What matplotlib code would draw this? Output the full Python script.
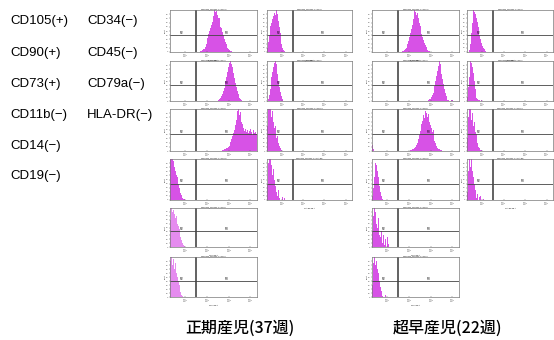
#!/usr/bin/env python3
"""
flow cytometry panels: term (37w) vs very preterm (22w) MSC markers
"""
import matplotlib.pyplot as plt
import numpy as np

plt.rcParams['font.family'] = ['Liberation Sans', 'Noto Sans CJK JP', 'DejaVu Sans']

# histogram bins are 0.04 decade wide; each entry = (log10 of first bin edge, bin heights in % of axis)
BIN = 0.04

# term infant (37 weeks)
t_cd105 = (1.70, [2, 3, 4, 6, 8, 12, 18, 25, 33, 42, 50, 58, 65, 72, 85, 92, 100, 95, 98,
                  88, 80, 82, 70, 60, 58, 48, 40, 32, 25, 20, 14, 10, 7, 5, 3, 2, 1, 1])
t_cd90 = (2.45, [1, 2, 3, 5, 8, 12, 18, 25, 32, 40, 50, 60, 72, 85, 95, 100, 92, 98, 85,
                 70, 58, 45, 35, 25, 18, 12, 7, 4, 2])
t_cd73 = (2.60, [1, 1, 2, 2, 3, 4, 5, 6, 8, 10, 13, 16, 22, 28, 35, 42, 50, 62, 75, 88, 95,
                 100, 85, 92, 70, 65, 55, 60, 48, 52, 45, 50, 42, 48, 40, 52, 45, 38, 50, 42,
                 46, 40, 44])
t_cd11b = (0.30, [100, 120, 110, 115, 95, 80, 70, 60, 55, 40, 30, 25, 18, 12, 6, 3, 2, 1])
t_cd14 = (0.30, [70, 110, 90, 105, 95, 85, 75, 80, 60, 55, 45, 35, 25, 18, 10, 5, 2])
t_cd19 = (0.30, [90, 105, 80, 110, 95, 70, 85, 60, 50, 40, 30, 20, 12, 6, 3])
t_cd34 = (0.30, [10, 25, 40, 55, 62, 70, 78, 85, 92, 88, 97, 100, 90, 75, 60, 45, 30, 18,
                 10, 5, 2, 1])
t_cd45 = (0.35, [5, 15, 30, 48, 60, 72, 85, 95, 100, 92, 80, 68, 50, 35, 22, 12, 6, 3, 1])
t_cd79a = (0.30, [60, 110, 120, 115, 105, 80, 95, 70, 55, 60, 40, 30, 35, 20, 12, 8, 4, 2])
t_hladr = (0.30, [40, 90, 110, 70, 100, 85, 60, 75, 50, 35, 45, 20, 10, 25, 5, 0, 15, 0,
                  8, 0, 5])

# very preterm infant (22 weeks)
p_cd105 = (1.65, [1, 2, 3, 5, 7, 10, 14, 20, 27, 35, 45, 55, 65, 78, 90, 100, 95, 88, 92,
                  80, 70, 62, 52, 42, 35, 28, 22, 16, 12, 8, 5, 3, 2, 1])
p_cd90 = (2.85, [1, 2, 4, 6, 9, 14, 20, 28, 38, 50, 62, 75, 88, 100, 92, 80, 68, 55, 42,
                 30, 20, 12, 6, 3, 2, 1, 0, 2, 3, 1, 2, 1])
p_cd73 = (2.05, [2, 3, 4, 5, 6, 8, 10, 14, 20, 28, 38, 48, 55, 65, 72, 85, 78, 95, 90, 100,
                 80, 88, 70, 62, 55, 45, 50, 35, 25, 18, 12, 8, 5, 4, 3, 2, 2, 1])
p_cd73_low = (0.30, [15, 5])
p_cd11b = (0.30, [10, 30, 55, 75, 90, 85, 70, 55, 35, 20, 10, 5, 2, 1])
p_cd14 = (0.30, [40, 80, 100, 70, 90, 60, 50, 75, 30, 25, 40, 15, 10, 30, 5, 20, 0, 25, 8, 0])
p_cd19 = (0.30, [30, 85, 100, 95, 80, 90, 70, 60, 40, 25, 15, 8, 3, 0, 0, 5, 0])
p_cd34 = (0.40, [5, 20, 45, 70, 85, 100, 95, 90, 80, 72, 60, 50, 40, 30, 22, 15, 10, 6, 3,
                 2, 1, 1, 0.5, 0.5])
p_cd45 = (0.30, [10, 35, 60, 80, 100, 95, 85, 70, 50, 30, 15, 8, 4, 2, 3, 1, 2, 0, 1])
p_cd79a = (0.30, [30, 80, 110, 95, 100, 75, 90, 60, 70, 45, 30, 40, 20, 10, 6, 3, 2])
p_hladr = (0.30, [20, 70, 110, 90, 80, 100, 70, 55, 40, 25, 10, 5, 15, 0, 8, 10, 0, 5, 0, 3, 0])

col1_markers = ["CD105", "CD90", "CD73", "CD11b", "CD14", "CD19"]
col2_markers = ["CD34", "CD45", "CD79a", "HLA-DR"]
col1_labels = ["CD105(+)", "CD90(+)", "CD73(+)", "CD11b(\u2212)", "CD14(\u2212)", "CD19(\u2212)"]
col2_labels = ["CD34(\u2212)", "CD45(\u2212)", "CD79a(\u2212)", "HLA-DR(\u2212)"]
group_titles = ["正期産児(37週)", "超早産児(22週)"]

term_col1 = [[t_cd105], [t_cd90], [t_cd73], [t_cd11b], [t_cd14], [t_cd19]]
term_col2 = [[t_cd34], [t_cd45], [t_cd79a], [t_hladr]]
pre_col1 = [[p_cd105], [p_cd90], [p_cd73, p_cd73_low], [p_cd11b], [p_cd14], [p_cd19]]
pre_col2 = [[p_cd34], [p_cd45], [p_cd79a], [p_hladr]]

W, H = 554, 340
fig = plt.figure(figsize=(W / 100, H / 100), dpi=100)

row_y = [(10, 52), (61, 101), (109, 151), (159, 200), (208, 247), (257, 297)]
col_x = [[(170, 257), (267, 352)], [(372, 459), (467, 553)]]

MAG = "#d752e6"
MAG_LIGHT = "#e58cef"


def add_box(x0, x1, y0, y1):
    return fig.add_axes([x0 / W, 1 - y1 / H, (x1 - x0) / W, (y1 - y0) / H])


def draw_panel(ax, hists, marker, color):
    for start, heights in hists:
        edges = 10 ** (start + BIN * np.arange(len(heights) + 1))
        ax.stairs(heights, edges, fill=True, color=color, lw=0)
    ax.set_xscale("log")
    ax.set_xlim(10 ** 0.3, 10 ** 4.3)
    ax.set_ylim(0, 100)
    ax.axvline(10 ** 1.5, color="#555555", lw=1.3)
    ax.axhline(40, color="#444444", lw=0.6)
    ax.text(10 ** 0.85, 41, "P2", fontsize=2.2, ha="center", va="bottom")
    ax.text(10 ** 2.9, 41, "P3", fontsize=2.2, ha="center", va="bottom")
    ax.set_xticks([10, 100, 1000, 10000])
    ax.set_xticklabels([r"$10^{1}$", r"$10^{2}$", r"$10^{3}$", r"$10^{4}$"], fontsize=1.8)
    ax.minorticks_off()
    ax.set_yticks(np.arange(0, 100, 10))
    ax.set_yticklabels([str(v) for v in range(0, 100, 10)], fontsize=1.6)
    ax.tick_params(length=1.0, width=0.3, pad=0.2, colors="#555555")
    ax.tick_params(axis="x", direction="in")
    ax.set_title(f"Specimen_001-MSC-1-1 {marker}", fontsize=1.3, pad=0)
    ax.set_xlabel(f"{marker} PE-A", fontsize=1.3, labelpad=0)
    ax.set_ylabel("Count", fontsize=1.4, labelpad=0.2)
    for s in ax.spines.values():
        s.set_color("#777777")
        s.set_linewidth(0.5)


groups = [(term_col1, term_col2), (pre_col1, pre_col2)]
for g, (c1, c2) in enumerate(groups):
    for r, hists in enumerate(c1):
        ax = add_box(*col_x[g][0], *row_y[r])
        color = MAG_LIGHT if (g == 0 and r >= 4) else MAG
        draw_panel(ax, hists, col1_markers[r], color)
    for r, hists in enumerate(c2):
        ax = add_box(*col_x[g][1], *row_y[r])
        draw_panel(ax, hists, col2_markers[r], MAG)

# marker labels on the left
label_y = [21, 53, 84, 115, 146, 176]
for i, txt in enumerate(col1_labels):
    fig.text(10 / W, 1 - label_y[i] / H, txt, fontsize=9.5, va="center", ha="left")
for i, txt in enumerate(col2_labels):
    fig.text(87 / W, 1 - label_y[i] / H, txt, fontsize=9.5, va="center", ha="left")

# group titles at the bottom
for cx, title in zip([240, 447], group_titles):
    fig.text(cx / W, 1 - 328 / H, title, fontsize=11.5, ha="center", va="center",
             weight="medium", family=["Noto Sans CJK JP", "DejaVu Sans"])

fig.savefig("out.png", dpi=100)
